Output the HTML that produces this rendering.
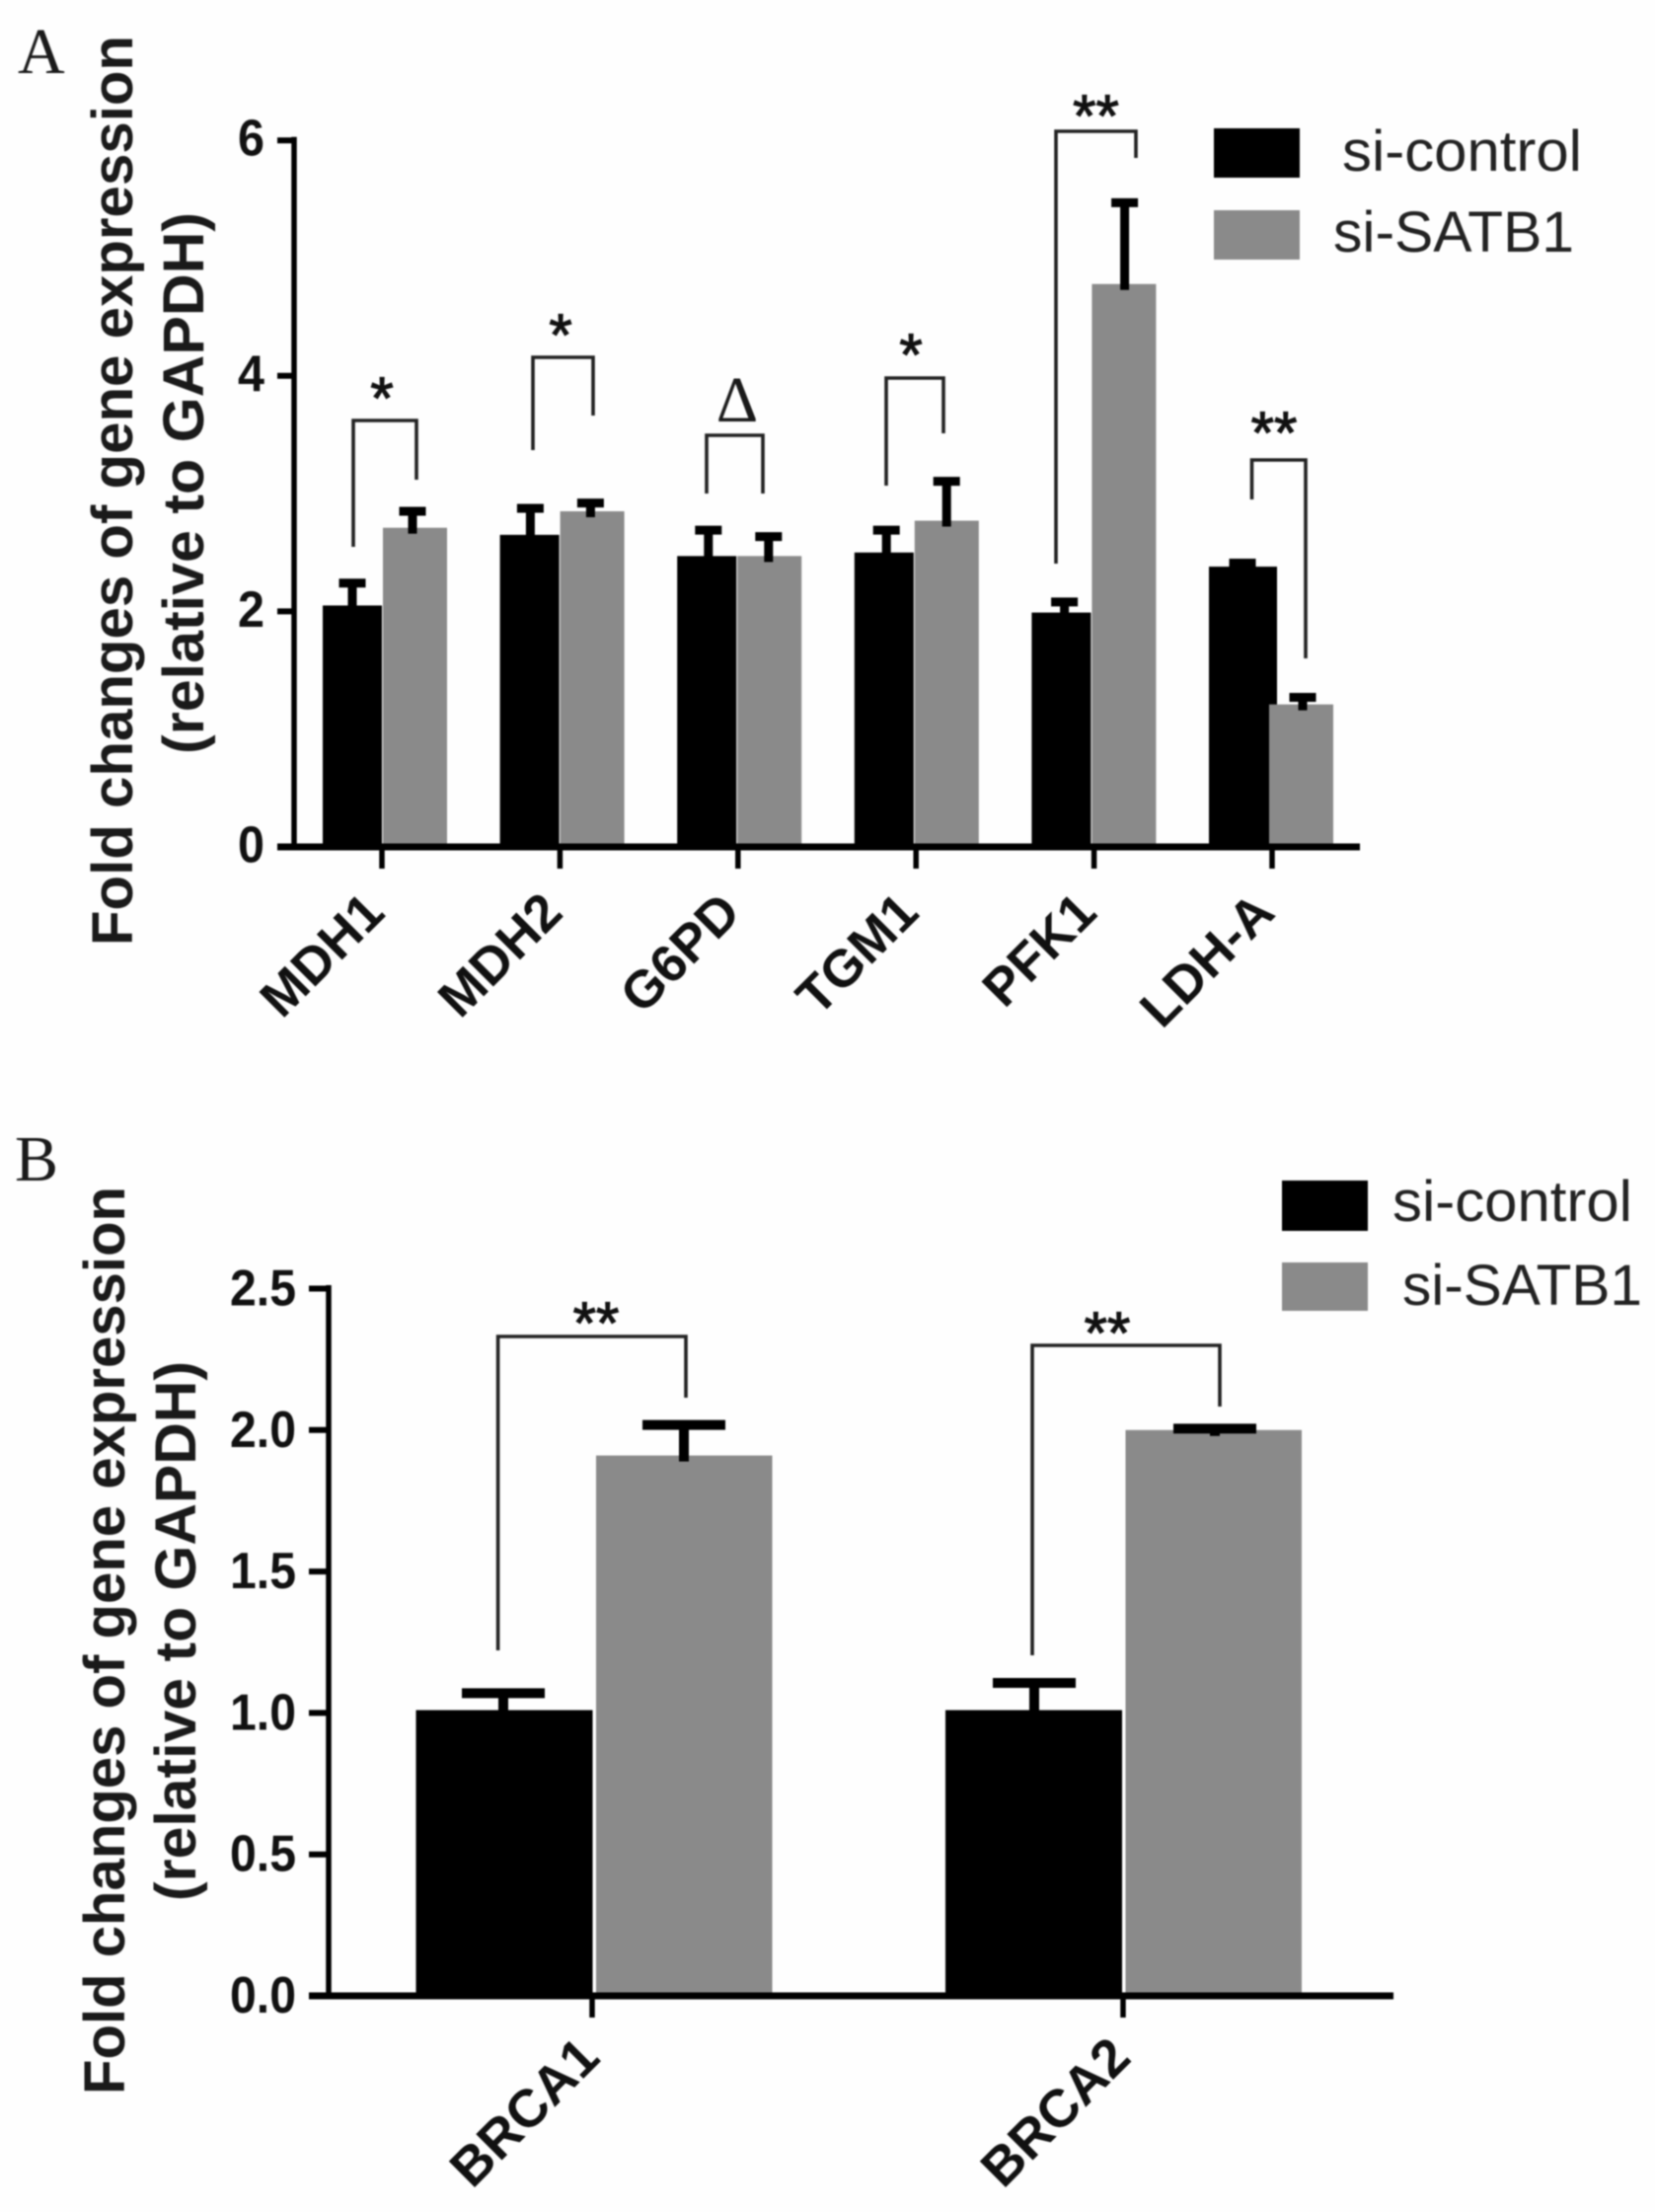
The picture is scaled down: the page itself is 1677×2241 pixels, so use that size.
<!DOCTYPE html>
<html lang="en">
<head>
<meta charset="utf-8">
<title>Fold changes of gene expression</title>
<style>
  html, body { margin: 0; padding: 0; background: #fefefe; }
  svg { display: block; filter: blur(0.9px); }
  text { font-family: "Liberation Sans", Arial, sans-serif; fill: #111; }
  .title { font-weight: bold; font-size: 58px; fill: #1a1a1a; }
  .serif { font-family: "Liberation Serif", serif; font-size: 66px; fill: #1a1a1a; }
  .legend { font-size: 58px; fill: #222; }
  .star { font-size: 60px; text-anchor: middle; fill: #111; stroke: #111; stroke-width: 1.2; }
  .bracket { fill: none; stroke: #222; stroke-width: 3.6; }
  .tick-label { font-weight: bold; text-anchor: end; fill: #111; }
  .cat-label { font-weight: bold; text-anchor: end; fill: #111; }
</style>
</head>
<body>
<svg id="figure" xmlns="http://www.w3.org/2000/svg" width="1677" height="2241" viewBox="0 0 1677 2241">
  <rect width="1677" height="2241" fill="#fefefe"/>

  <g id="panel-a"></g>
  <g id="panel-b"></g>

  <text class="serif" x="18" y="74">A</text>
  <text class="serif" x="15" y="1196">B</text>

  <text class="title" transform="translate(134,958) rotate(-90)" textLength="922" lengthAdjust="spacingAndGlyphs">Fold changes of gene expression</text>
  <text class="title" transform="translate(206,764) rotate(-90)" textLength="549" lengthAdjust="spacingAndGlyphs">(relative to GAPDH)</text>
  <text class="title" transform="translate(126,2122) rotate(-90)" textLength="920" lengthAdjust="spacingAndGlyphs">Fold changes of gene expression</text>
  <text class="title" transform="translate(198,1926) rotate(-90)" textLength="547" lengthAdjust="spacingAndGlyphs">(relative to GAPDH)</text>

  <!-- Panel A significance annotations -->
  <path class="bracket" d="M358 554V426H422V486"/>
  <path class="bracket" d="M540 456V362H601V421"/>
  <path class="bracket" d="M716 500V441H773V500"/>
  <path class="bracket" d="M898 492V383H956V439"/>
  <path class="bracket" d="M1070 571V133H1151V160"/>
  <path class="bracket" d="M1268.500 506V466H1323V667"/>
  <text class="star" x="387" y="424">*</text>
  <text class="star" x="568" y="360">*</text>
  <text class="serif" x="747" y="427" text-anchor="middle">Δ</text>
  <text class="star" x="923" y="380">*</text>
  <text class="star" x="1110.500" y="138">**</text>
  <text class="star" x="1291" y="459">**</text>

  <!-- Panel A legend -->
  <rect x="1230" y="130" width="87" height="50" fill="#000"/>
  <rect x="1230" y="213" width="87" height="50" fill="#8a8a8a"/>
  <text class="legend" x="1360" y="173" textLength="243" lengthAdjust="spacingAndGlyphs">si-control</text>
  <text class="legend" x="1351" y="255" textLength="244" lengthAdjust="spacingAndGlyphs">si-SATB1</text>

  <!-- Panel B significance annotations -->
  <path class="bracket" d="M504.600 1672V1354H695V1416"/>
  <path class="bracket" d="M1046 1677V1363H1236V1425"/>
  <text class="star" x="604" y="1361">**</text>
  <text class="star" x="1122" y="1371">**</text>

  <!-- Panel B legend -->
  <rect x="1299" y="1196" width="87" height="51" fill="#000"/>
  <rect x="1299" y="1279" width="87" height="49" fill="#8a8a8a"/>
  <text class="legend" x="1411" y="1237" textLength="243" lengthAdjust="spacingAndGlyphs">si-control</text>
  <text class="legend" x="1421" y="1322" textLength="243" lengthAdjust="spacingAndGlyphs">si-SATB1</text>
</svg>

<script>
const panelACategories = ["MDH1", "MDH2", "G6PD", "TGM1", "PFK1", "LDH-A"];
const panelAControl = [2.05, 2.65, 2.47, 2.50, 1.99, 2.38];
const panelATreated = [2.71, 2.85, 2.47, 2.77, 4.78, 1.21];
const panelAControlErr = [0.19, 0.225, 0.22, 0.19, 0.09, 0.03];
const panelATreatedErr = [0.14, 0.07, 0.165, 0.335, 0.69, 0.06];
const panelATickValues = [0, 2, 4, 6];
const panelATickLabels = ["0", "2", "4", "6"];

const panelBCategories = ["BRCA1", "BRCA2"];
const panelBControl = [1.01, 1.01];
const panelBTreated = [1.91, 2.0];
const panelBControlErr = [0.06, 0.096];
const panelBTreatedErr = [0.108, 0.005];
const panelBTickValues = [0, 0.5, 1, 1.5, 2, 2.5];
const panelBTickLabels = ["0.0", "0.5", "1.0", "1.5", "2.0", "2.5"];

const SVG_NS = "http://www.w3.org/2000/svg";

function make(tag, attrs, parent) {
  const node = document.createElementNS(SVG_NS, tag);
  for (const key in attrs) node.setAttribute(key, attrs[key]);
  parent.appendChild(node);
  return node;
}

function drawPanel(parent, d, g) {
  const yScale = v => g.y0 - v * g.unit;
  const tickX = i => g.tickStart + i * g.tickStep;
  const barX = i => g.barStart + i * g.barStep;

  d.categories.forEach((cat, i) => {
    const slug = cat.toLowerCase();
    const extra = i === d.categories.length - 1 ? g.lastControlExtra : 0;

    const controlBar = make("rect", { x: barX(i), y: yScale(d.control[i]), width: g.controlWidth + extra, height: g.y0 - yScale(d.control[i]), fill: "#000" }, parent);
    
    

    const treatedBar = make("rect", { x: barX(i) + g.treatedGap, y: yScale(d.treated[i]), width: g.treatedWidth, height: g.y0 - yScale(d.treated[i]), fill: "#8a8a8a" }, parent);
    
    

    const series = [
      { key: 'si-control', value: d.control[i], err: d.controlErr[i], offset: g.controlErrOffset },
      { key: 'si-satb1', value: d.treated[i], err: d.treatedErr[i], offset: g.treatedErrOffset }
    ];
    series.forEach(s => {
      const cx = tickX(i) + s.offset;
      const yTop = yScale(s.value + s.err);
      const stem = make("line", { x1: cx, x2: cx, y1: yTop, y2: yScale(s.value) + 6, stroke: "#000", "stroke-width": g.stemWidth }, parent);
      
      

      const cap = make("line", { x1: cx - g.capWidth / 2, x2: cx + g.capWidth / 2, y1: yTop, y2: yTop, stroke: "#000", "stroke-width": g.capThick }, parent);
      
      
    });
  });

  const yTopValue = d.tickValues[d.tickValues.length - 1];
  const yAxis = make("line", { x1: g.axisX, x2: g.axisX, y1: yScale(yTopValue) - 3.5, y2: g.y0 + 3.5, stroke: "#000", "stroke-width": 5.5 }, parent);
  
  

  const xAxis = make("line", { x1: g.tickLeft, x2: g.axisRight, y1: g.y0, y2: g.y0, stroke: "#000", "stroke-width": 7 }, parent);
  
  

  d.tickValues.forEach((v, i) => {
    const tick = make("line", { x1: g.tickLeft, x2: g.axisX, y1: yScale(v), y2: yScale(v), stroke: "#000", "stroke-width": 6 }, parent);
    
    

    const label = make("text", { class: "tick-label", x: g.tickLabelX, y: yScale(v) + g.tickLabelDy, "font-size": g.tickFont, textLength: g.tickLabelLength, lengthAdjust: "spacingAndGlyphs" }, parent);
    
    
    label.textContent = d.tickLabels[i];
  });

  d.categories.forEach((cat, i) => {
    const slug = cat.toLowerCase();
    const tick = make("line", { x1: tickX(i), x2: tickX(i), y1: g.y0, y2: g.xTickBottom, stroke: "#000", "stroke-width": 5.5 }, parent);
    
    

    const label = make("text", { class: "cat-label", "font-size": g.catFont, transform: "translate(" + (tickX(i) + g.catDx) + "," + g.catY + ") rotate(-45)" }, parent);
    
    
    label.textContent = cat;
  });
}

drawPanel(document.getElementById("panel-a"), {
  categories: panelACategories,
  control: panelAControl,
  treated: panelATreated,
  controlErr: panelAControlErr,
  treatedErr: panelATreatedErr,
  tickValues: panelATickValues,
  tickLabels: panelATickLabels
}, {
  y0: 858, unit: 119.3,
  tickStart: 387, tickStep: 180.4,
  barStart: 327, barStep: 179.6,
  controlWidth: 60, lastControlExtra: 9, treatedGap: 61, treatedWidth: 65,
  controlErrOffset: -30, treatedErrOffset: 31,
  stemWidth: 9, capWidth: 27, capThick: 9,
  axisX: 298, axisRight: 1378, tickLeft: 281,
  tickLabelX: 268, tickLabelDy: 15.5, tickFont: 52, tickLabelLength: 27,
  xTickBottom: 880, catFont: 53, catDx: 5, catY: 927
});

drawPanel(document.getElementById("panel-b"), {
  categories: panelBCategories,
  control: panelBControl,
  treated: panelBTreated,
  controlErr: panelBControlErr,
  treatedErr: panelBTreatedErr,
  tickValues: panelBTickValues,
  tickLabels: panelBTickLabels
}, {
  y0: 2022, unit: 286.6,
  tickStart: 600, tickStep: 538,
  barStart: 421.5, barStep: 536.5,
  controlWidth: 179, lastControlExtra: 0, treatedGap: 182.5, treatedWidth: 178.5,
  controlErrOffset: -90, treatedErrOffset: 93,
  stemWidth: 10, capWidth: 84, capThick: 10,
  axisX: 333, axisRight: 1412, tickLeft: 313,
  tickLabelX: 300, tickLabelDy: 17, tickFont: 52, tickLabelLength: 67,
  xTickBottom: 2044, catFont: 54, catDx: 10, catY: 2087
});
</script>
</body>
</html>
